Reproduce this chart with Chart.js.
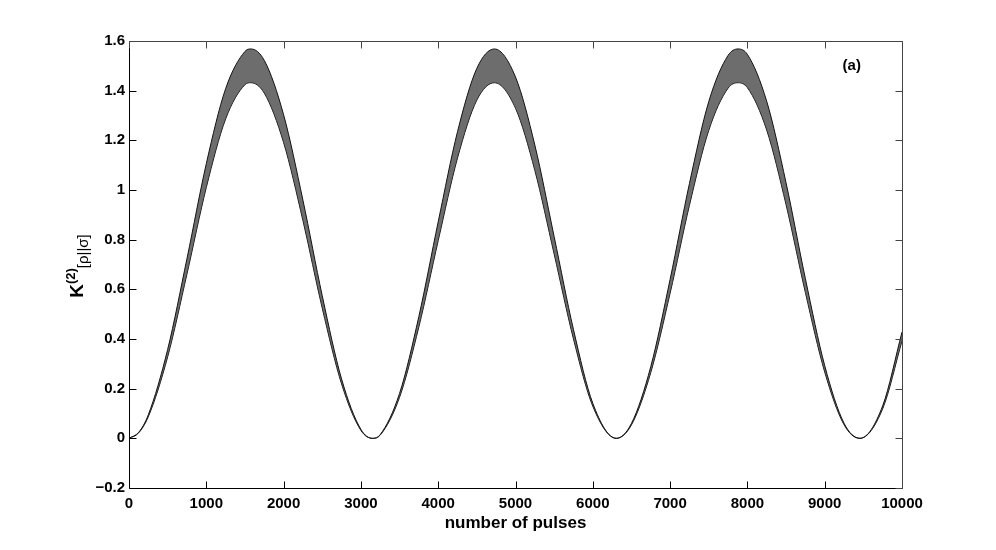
<!DOCTYPE html>
<html>
<head>
<meta charset="utf-8">
<script src="https://cdn.jsdelivr.net/npm/chart.js@4/dist/chart.umd.min.js"></script>
<style>
  html, body { margin: 0; padding: 0; background: #fff; }
  #wrap { width: 996px; height: 550px; }
</style>
</head>
<body>
<div id="wrap"><canvas id="c" width="996" height="550"></canvas></div>
<script>
// pulses sampled along the curve (peaks / minima included)
const pulses = [0, 125, 250, 500, 750, 1000, 1250, 1500, 1576, 1750, 2000, 2250, 2500, 2750, 3000, 3152,
	3250, 3500, 3750, 4000, 4250, 4500, 4728, 5000, 5250, 5500, 5750, 6000, 6304, 6500, 6750,
	7000, 7250, 7500, 7750, 7880, 8000, 8250, 8500, 8750, 9000, 9250, 9456, 9750, 10000];

// top of the fast oscillation band
const upperK = [0, 0.024, 0.095, 0.358, 0.724, 1.106, 1.408, 1.558, 1.568, 1.522, 1.303, 0.959, 0.574, 0.239, 0.036, 0,
	0.015, 0.181, 0.491, 0.872, 1.235, 1.490, 1.568, 1.455, 1.181, 0.812, 0.438, 0.141, 0, 0.060, 0.289,
	0.640, 1.026, 1.356, 1.542, 1.568, 1.546, 1.357, 1.029, 0.643, 0.293, 0.061, 0, 0.131, 0.428];

// bottom of the fast oscillation band
const lowerK = [0, 0.022, 0.087, 0.328, 0.662, 1.010, 1.286, 1.424, 1.432, 1.390, 1.191, 0.877, 0.524, 0.219, 0.032, 0,
	0.013, 0.165, 0.449, 0.796, 1.129, 1.362, 1.432, 1.329, 1.079, 0.742, 0.400, 0.129, 0, 0.054, 0.265,
	0.584, 0.938, 1.240, 1.410, 1.432, 1.412, 1.241, 0.941, 0.587, 0.267, 0.055, 0, 0.119, 0.392];

const xTicks = [0, 1000, 2000, 3000, 4000, 5000, 6000, 7000, 8000, 9000, 10000];
const yTicks = [-0.2, 0, 0.2, 0.4, 0.6, 0.8, 1, 1.2, 1.4, 1.6];

const FONT = "'Liberation Sans', Arial, Helvetica, sans-serif";

function fmt(v) {
	return String(Math.round(v * 10) / 10).replace('-', '\u2212');
}

// box, inward ticks on all four sides, titles and the panel label
const matlabFrame = {
	id: 'matlabFrame',
	afterDraw(chart) {
		const ctx = chart.ctx;
		const a = chart.chartArea;
		const xs = chart.scales.x, ys = chart.scales.y;
		const L = Math.round(a.left) + 0.5, R = Math.round(a.right) + 0.5;
		const T = Math.round(a.top) + 0.5, B = Math.round(a.bottom) + 0.5;
		const tl = 7;
		ctx.save();
		ctx.lineWidth = 1;
		ctx.strokeStyle = '#000';
		ctx.beginPath();
		ctx.moveTo(L, T); ctx.lineTo(L, B); ctx.lineTo(R, B);
		xTicks.forEach(v => {
			const px = Math.round(xs.getPixelForValue(v)) + 0.5;
			ctx.moveTo(px, B); ctx.lineTo(px, B - tl);
		});
		yTicks.forEach(v => {
			const py = Math.round(ys.getPixelForValue(v)) + 0.5;
			ctx.moveTo(L, py); ctx.lineTo(L + tl, py);
		});
		ctx.stroke();
		// top and right edges come out lighter in the original
		ctx.strokeStyle = '#444';
		ctx.beginPath();
		ctx.moveTo(L, T); ctx.lineTo(R, T); ctx.lineTo(R, B);
		xTicks.forEach(v => {
			const px = Math.round(xs.getPixelForValue(v)) + 0.5;
			ctx.moveTo(px, T); ctx.lineTo(px, T + tl);
		});
		yTicks.forEach(v => {
			const py = Math.round(ys.getPixelForValue(v)) + 0.5;
			ctx.moveTo(R, py); ctx.lineTo(R - tl, py);
		});
		ctx.stroke();

		ctx.fillStyle = '#000';
		// x title
		ctx.font = 'bold 17px ' + FONT;
		ctx.textAlign = 'center';
		ctx.textBaseline = 'alphabetic';
		ctx.fillText('number of pulses', (a.left + a.right) / 2, 528);

		// y title K^(2)[rho||sigma], rotated
		ctx.translate(83, 266);
		ctx.rotate(-Math.PI / 2);
		ctx.textAlign = 'left';
		const parts = [
			{ t: 'K', f: 'bold 19px ', dy: 0 },
			{ t: '(2)', f: 'bold 13px ', dy: -8 },
			{ t: '[\u03c1||\u03c3]', f: '15px ', dy: 5 }
		];
		let w = 0;
		parts.forEach(p => { ctx.font = p.f + FONT; w += ctx.measureText(p.t).width; });
		let x0 = -w / 2;
		parts.forEach(p => {
			ctx.font = p.f + FONT;
			ctx.fillText(p.t, x0, p.dy);
			x0 += ctx.measureText(p.t).width;
		});
		ctx.restore();

		// panel label
		ctx.save();
		ctx.fillStyle = '#000';
		ctx.font = 'bold 15px ' + FONT;
		ctx.textAlign = 'center';
		ctx.textBaseline = 'middle';
		ctx.fillText('(a)', xs.getPixelForValue(9350), ys.getPixelForValue(1.5));
		ctx.restore();
	}
};

new Chart(document.getElementById('c'), {
	type: 'line',
	data: {
		datasets: [
			{
				label: 'upper',
				data: pulses.map((p, i) => ({ x: p, y: upperK[i] })),
				borderColor: '#111',
				borderWidth: 1,
				backgroundColor: 'rgba(60,60,60,0.75)',
				pointRadius: 0,
				cubicInterpolationMode: 'monotone',
				fill: '+1'
			},
			{
				label: 'lower',
				data: pulses.map((p, i) => ({ x: p, y: lowerK[i] })),
				borderColor: '#111',
				borderWidth: 1,
				pointRadius: 0,
				cubicInterpolationMode: 'monotone',
				fill: false
			}
		]
	},
	options: {
		responsive: false,
		animation: false,
		devicePixelRatio: 1,
		layout: { padding: { left: 0, right: 94, top: 41, bottom: 0 } },
		plugins: { legend: { display: false }, tooltip: { enabled: false } },
		scales: {
			x: {
				type: 'linear',
				min: 0, max: 10000,
				afterFit: s => { s.height = 62; },
				afterBuildTicks: s => { s.ticks = xTicks.map(v => ({ value: v })); },
				grid: { display: false, drawTicks: false },
				border: { display: false },
				ticks: {
					padding: 7,
					color: '#000',
					maxRotation: 0,
					font: { family: FONT, size: 15, weight: 'bold' },
					callback: v => String(v)
				}
			},
			y: {
				type: 'linear',
				min: -0.2, max: 1.6,
				afterFit: s => { s.width = 129; },
				afterBuildTicks: s => { s.ticks = yTicks.map(v => ({ value: v })); },
				grid: { display: false, drawTicks: false },
				border: { display: false },
				ticks: {
					padding: 4,
					color: '#000',
					font: { family: FONT, size: 15, weight: 'bold' },
					callback: v => fmt(v)
				}
			}
		}
	},
	plugins: [matlabFrame]
});
</script>
</body>
</html>
